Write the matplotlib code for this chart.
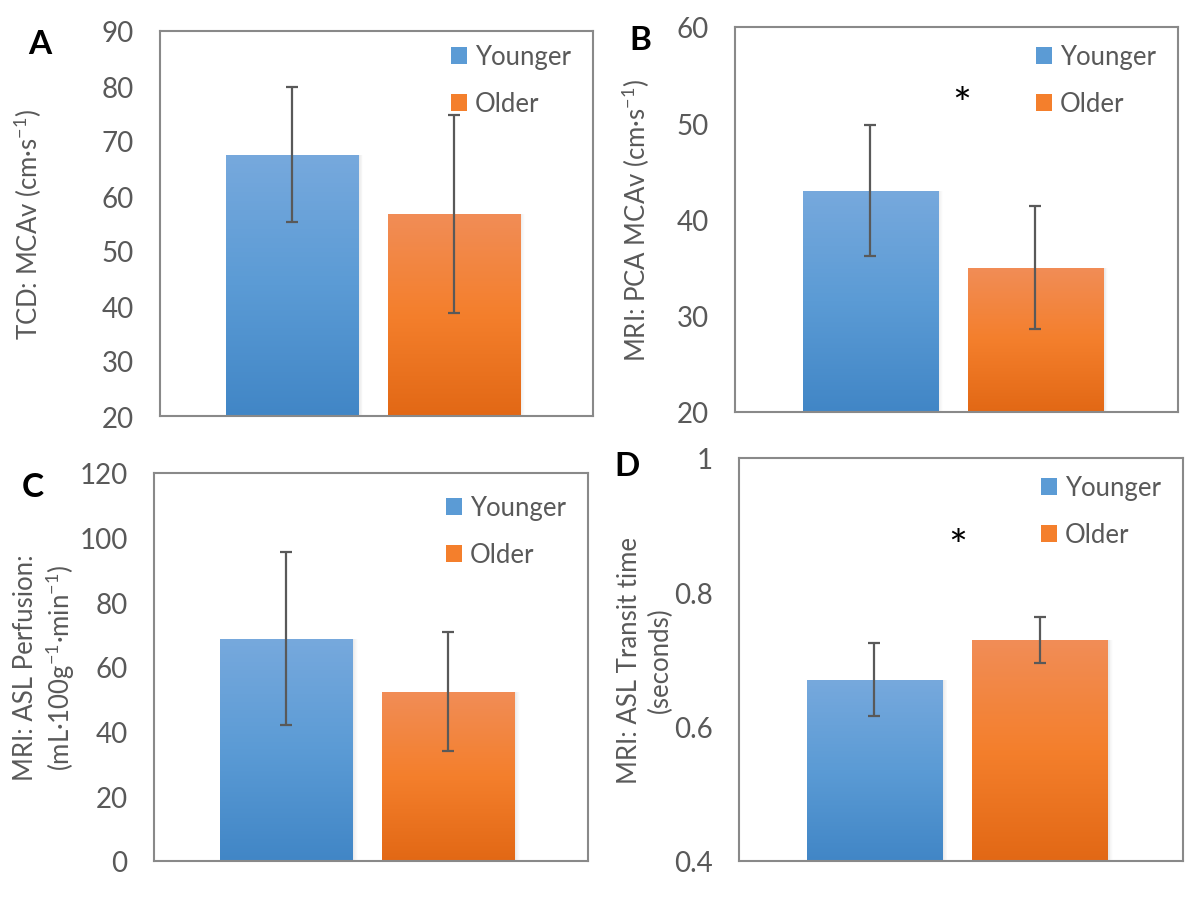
import numpy as np
import matplotlib
matplotlib.use("Agg")
import matplotlib.pyplot as plt
from matplotlib.patches import Patch
from matplotlib.colors import LinearSegmentedColormap

plt.rcParams["font.family"] = ["Lato", "DejaVu Sans"]
plt.rcParams["mathtext.default"] = "regular"

groups = ["Younger", "Older"]

# panel data: means and SD
tcd_mean = [67.5, 56.8]
tcd_err = [12.3, 18.0]
pca_mean = [43.0, 35.0]
pca_err = [6.8, 6.4]
asl_mean = [68.8, 52.4]
asl_err = [26.8, 18.4]
transit_mean = [0.670, 0.729]
transit_err = [0.054, 0.034]

panels = [
    dict(letter="A", mean=tcd_mean, err=tcd_err, ylim=(20, 90), ticks=[20, 30, 40, 50, 60, 70, 80, 90],
         ticklabels=None, ylabel="TCD: MCAv (cm·s$^{-1}$)", star=None,
         box=(160, 32, 593, 417), letter_xy=(40, 45), label_x=28, leg_dy=0),
    dict(letter="B", mean=pca_mean, err=pca_err, ylim=(20, 60), ticks=[20, 30, 40, 50, 60],
         ticklabels=None, ylabel="MRI: PCA MCAv (cm·s$^{-1}$)", star=(0.012, 52.3),
         box=(735, 28, 1178, 413), letter_xy=(640, 40), label_x=636, leg_dy=4),
    dict(letter="C", mean=asl_mean, err=asl_err, ylim=(0, 120), ticks=[0, 20, 40, 60, 80, 100, 120],
         ticklabels=None, ylabel="MRI: ASL Perfusion:\n(mL·100g$^{-1}$·min$^{-1}$)", star=None,
         box=(154, 474, 588, 862), letter_xy=(33, 488), label_x=45, leg_dy=9),
    dict(letter="D", mean=transit_mean, err=transit_err, ylim=(0.4, 1.0), ticks=[0.4, 0.6, 0.8, 1.0],
         ticklabels=["0.4", "0.6", "0.8", "1"], ylabel="MRI: ASL Transit time\n(seconds)",
         star=(-0.007, 0.873), box=(739, 459, 1183, 862), letter_xy=(627, 467), label_x=645, leg_dy=4),
]

W, H = 1192, 904
text_col = "#595959"
spine_col = "#898989"
blue_stops = ["#77A9DD", "#5B9BD5", "#4186C6"]
orange_stops = ["#F18D57", "#F47F2C", "#E26815"]
bar_x = [-0.195, 0.178]
bar_w = 0.305

fig = plt.figure(figsize=(W / 100, H / 100), dpi=100)


def gradient_bar(ax, x, top, bottom, stops):
    cmap = LinearSegmentedColormap.from_list("g", stops)
    bar = ax.bar(x, top - bottom, bottom=bottom, width=bar_w, color=stops[1], zorder=2)[0]
    grad = np.linspace(0, 1, 256).reshape(-1, 1)
    im = ax.imshow(grad, cmap=cmap, aspect="auto", origin="upper",
                   extent=(x - bar_w / 2, x + bar_w / 2, bottom, top), zorder=2.1)
    im.set_clip_path(bar)
    # soft shadow on the right side
    for k in range(6):
        ax.bar(x + bar_w / 2 + 0.002 * k, top - bottom, bottom=bottom, width=0.004,
               color="black", alpha=0.05 * (1 - k / 6), zorder=1.5, linewidth=0)


for p in panels:
    l, t, r, b = p["box"]
    ax = fig.add_axes([l / W, 1 - b / H, (r - l) / W, (b - t) / H])
    lo, hi = p["ylim"]
    for i, stops in enumerate([blue_stops, orange_stops]):
        gradient_bar(ax, bar_x[i], p["mean"][i], lo, stops)
    ax.errorbar(bar_x, p["mean"], yerr=p["err"], fmt="none", ecolor="#595959",
                elinewidth=1.6, capsize=4.5, capthick=1.6, zorder=3)
    ax.set_xlim(-0.5, 0.5)
    ax.set_ylim(lo, hi)
    ax.set_yticks(p["ticks"])
    if p["ticklabels"]:
        ax.set_yticklabels(p["ticklabels"])
    ax.set_xticks([])
    ax.tick_params(axis="y", length=0, pad=19, labelsize=20, labelcolor=text_col)
    for s in ax.spines.values():
        s.set_color(spine_col)
        s.set_linewidth(1.5)
    ax.set_ylabel(p["ylabel"], fontsize=18.5, color=text_col, multialignment="center",
                  linespacing=1.25)
    ax.yaxis.label.set_va("center")
    ax.yaxis.set_label_coords((p["label_x"] - l) / (r - l), 0.5)

    if p["star"] is not None:
        ax.text(p["star"][0], p["star"][1], "*", fontsize=32, color="black", ha="center",
                va="center_baseline")

    handles = [Patch(facecolor=blue_stops[1]), Patch(facecolor=orange_stops[1])]
    leg = ax.legend(handles, groups, loc="upper right",
                    bbox_to_anchor=(0.985, 1.005 - p["leg_dy"] / (b - t)),
                    frameon=False, fontsize=18.5, handlelength=0.65, handleheight=0.65,
                    handletextpad=0.3, labelspacing=0.85, borderaxespad=0.2)
    for txt in leg.get_texts():
        txt.set_color(text_col)

    fig.text(p["letter_xy"][0] / W, 1 - p["letter_xy"][1] / H, p["letter"],
             fontsize=24, fontweight="bold", ha="center", va="center")

fig.savefig("out.png", dpi=100, facecolor="white")
